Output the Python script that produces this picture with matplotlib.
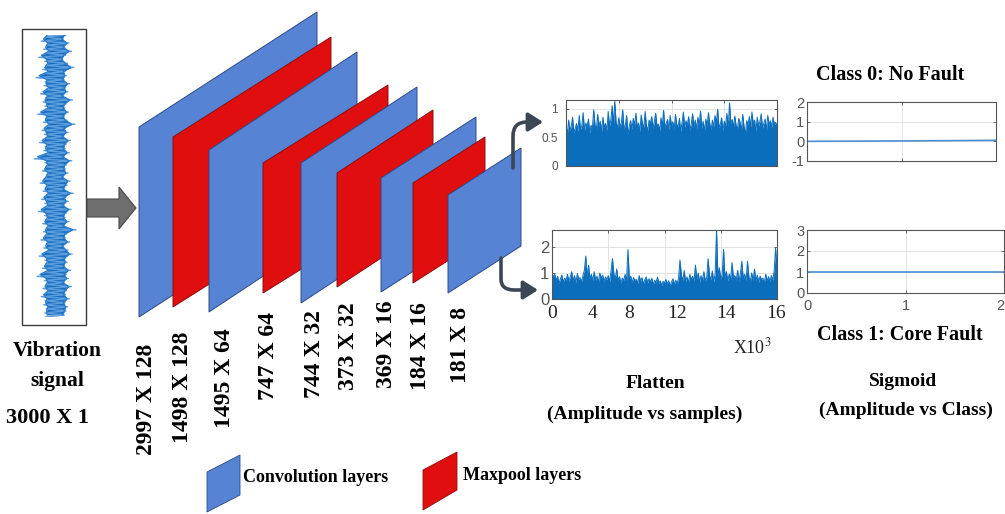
import numpy as np
import matplotlib
matplotlib.use('Agg')
import matplotlib.pyplot as plt
from matplotlib.patches import Polygon, FancyArrowPatch, Rectangle
from matplotlib.path import Path

plt.rcParams['axes.unicode_minus'] = False
plt.rcParams['mathtext.fontset'] = 'stix'

SERIF = ['Liberation Serif', 'DejaVu Serif']
SANS = ['Liberation Sans', 'DejaVu Sans']

# ---------------- data ----------------
layer_types = ['conv', 'pool', 'conv', 'pool', 'conv', 'pool', 'conv', 'pool', 'conv']
layer_dims = ['2997 X 128', '1498 X 128', '1495 X 64', '747 X 64', '744 X 32',
              '373 X 32', '369 X 16', '184 X 16', '181 X 8']
input_label = '3000 X 1'

# vibration signal envelope (right / left excursions, normalised)
vib_right = [0.30, 0.22, 0.38, 0.26, 0.45, 0.28, 0.20, 0.34, 0.52, 0.27,
             0.31, 0.24, 0.40, 0.29, 0.35, 0.22, 0.48, 0.30, 0.26, 0.37,
             0.25, 0.33, 0.55, 0.28, 0.36, 0.23, 0.42, 0.30, 0.27, 0.39,
             0.24, 0.46, 0.31, 0.28, 0.35, 0.22, 0.41, 0.33, 0.26, 0.50,
             0.29, 0.36, 0.24, 0.44, 0.30, 0.27, 0.38, 0.25, 0.58, 0.32,
             0.28, 0.40, 0.23, 0.35, 0.47, 0.29, 0.33, 0.26, 0.43, 0.30,
             0.37, 0.24, 0.45, 0.31, 0.28, 0.39, 0.27, 0.34, 0.30, 0.25]
vib_left = [-0.28, -0.40, -0.25, -0.33, -0.22, -0.47, -0.30, -0.26, -0.36, -0.24,
            -0.55, -0.29, -0.32, -0.23, -0.42, -0.27, -0.35, -0.30, -0.25, -0.50,
            -0.28, -0.34, -0.22, -0.38, -0.31, -0.26, -0.45, -0.29, -0.33, -0.24,
            -0.60, -0.30, -0.27, -0.37, -0.25, -0.32, -0.43, -0.28, -0.35, -0.23,
            -0.39, -0.30, -0.26, -0.48, -0.31, -0.27, -0.36, -0.24, -0.34, -0.29,
            -0.41, -0.26, -0.33, -0.22, -0.46, -0.30, -0.28, -0.37, -0.25, -0.52,
            -0.31, -0.27, -0.35, -0.24, -0.40, -0.29, -0.33, -0.26, -0.30, -0.28]

# flatten outputs (amplitude, one value per 100 samples, x in thousands)
flat_top = [0.72, 0.55, 0.80, 0.62, 0.70, 0.85, 0.58, 0.66, 0.74, 0.60,
            0.88, 0.64, 0.70, 0.93, 0.61, 0.75, 0.68, 0.82, 0.57, 0.71,
            0.66, 0.98, 0.72, 0.63, 0.90, 0.70, 0.78, 0.60, 0.85, 0.67,
            0.74, 0.62, 0.95, 0.70, 0.80, 1.05, 0.72, 1.13, 0.76, 0.66,
            0.84, 0.68, 0.76, 0.98, 0.63, 0.72, 0.88, 0.55, 0.70, 0.79,
            0.64, 0.83, 0.71, 0.92, 0.66, 0.75, 0.60, 0.89, 0.73, 0.68,
            0.95, 0.70, 0.62, 0.80, 0.74, 0.86, 0.65, 0.78, 0.92, 0.69,
            0.73, 0.61, 0.84, 0.70, 0.97, 0.66, 0.75, 0.81, 0.63, 0.88,
            0.70, 0.77, 0.64, 0.90, 0.72, 0.68, 0.83, 0.60, 0.76, 0.94,
            0.67, 0.79, 0.71, 0.86, 0.62, 0.74, 0.91, 0.69, 0.80, 0.65,
            0.85, 0.72, 0.96, 0.66, 0.78, 0.61, 0.82, 0.70, 0.93, 0.74,
            0.63, 0.80, 0.69, 0.88, 0.75, 0.99, 0.67, 0.73, 0.84, 0.62,
            0.78, 0.70, 0.92, 0.65, 1.10, 0.74, 0.81, 0.68, 0.87, 0.71,
            0.64, 0.83, 0.76, 0.62, 0.90, 0.69, 0.55, 0.79, 0.72, 0.86,
            0.68, 0.94, 0.73, 0.80, 0.61, 0.85, 0.70, 0.77, 0.91, 0.66,
            0.74, 0.82, 0.63, 0.88, 0.71, 0.79, 0.67, 0.85, 0.72, 0.76, 0.70]
flat_bot = [1.00, 0.85, 0.95, 0.70, 0.88, 0.60, 0.78, 0.92, 0.65, 0.80,
            0.72, 0.95, 0.68, 0.85, 1.05, 0.70, 0.90, 0.62, 0.98, 0.75,
            0.82, 0.66, 0.90, 1.10, 1.65, 0.85, 1.30, 0.78, 0.95, 0.70,
            1.05, 0.72, 0.88, 0.64, 1.00, 0.80, 0.92, 0.68, 0.85, 0.74,
            0.90, 0.66, 1.10, 1.55, 0.95, 0.78, 1.15, 0.70, 0.86, 0.62,
            0.80, 0.72, 0.95, 0.68, 1.90, 0.75, 0.88, 0.64, 0.82, 0.70,
            0.76, 0.60, 0.90, 0.68, 0.82, 0.58, 0.74, 0.85, 0.62, 0.78,
            0.66, 0.80, 0.55, 0.72, 0.64, 0.84, 0.60, 0.70, 0.52, 0.68,
            0.62, 0.75, 0.58, 0.70, 0.50, 0.66, 0.78, 0.56, 0.72, 0.60,
            0.80, 1.50, 0.92, 0.70, 1.10, 0.66, 0.85, 0.62, 0.95, 0.74,
            0.88, 0.68, 1.30, 0.76, 1.00, 0.64, 0.90, 0.72, 1.05, 0.70,
            0.82, 1.55, 0.90, 0.74, 1.08, 0.66, 0.95, 2.65, 0.85, 1.20,
            0.78, 0.92, 1.90, 0.80, 1.05, 0.70, 0.96, 0.74, 1.40, 0.82,
            0.90, 0.72, 1.10, 0.68, 1.00, 1.45, 0.76, 0.95, 0.70, 1.45,
            0.85, 0.66, 1.00, 0.72, 1.15, 0.70, 0.92, 0.64, 0.88, 0.74,
            0.80, 0.62, 0.95, 0.70, 0.86, 0.66, 0.90, 0.72, 1.10, 1.95, 1.20]
flat_xticklabels = ['0', '4', '8', '12', '14', '16']

# sigmoid outputs
classes = [0, 1, 2]
sig_class0 = [0.0, 0.02, 0.05]
sig_class1 = [1.0, 1.0, 1.0]

# ---------------- layout (pixels) ----------------
W, H = 1005, 514
# layer parallelograms: left x, left-top y, height, right x, right-top y
layer_geom = [(139, 127, 190, 317, 12), (173, 137, 170, 331, 37),
              (209, 150, 162, 357, 52), (263, 163, 130, 388, 85),
              (301, 163, 140, 417, 87), (337, 173, 114, 433, 110),
              (381, 178, 114, 476, 117), (413, 183, 100, 485, 137),
              (448, 195, 98, 521, 148)]
label_pos = [(147, 455), (183, 443), (224, 428), (268, 400), (315, 398),
             (348, 390), (387, 388), (420, 390), (460, 383)]
flat_tick_pos = [0.0, 2.9, 5.5, 8.9, 12.4, 15.9]

COL = {'conv': '#5683d4', 'pool': '#e00e0e'}
EDGE = {'conv': '#2d4a86', 'pool': '#8a1010'}
LINE = '#0a6ebd'

fig = plt.figure(figsize=(W / 100, H / 100), dpi=100)
fig.patch.set_facecolor('white')
ax = fig.add_axes([0, 0, 1, 1])
ax.set_xlim(0, W)
ax.set_ylim(H, 0)
ax.axis('off')


def rect(l, t, r, b):
    return [l / W, 1 - b / H, (r - l) / W, (b - t) / H]


# ---- input signal ----
ax.add_patch(Rectangle((22, 29), 64, 296, fill=False, ec='#3a3a3a', lw=1.0, zorder=2))
axv = fig.add_axes(rect(23, 35, 85, 317))
axv.axis('off')
n = len(vib_right)
yy = np.arange(n)
zz_x, zz_y = [], []
for i in range(n):
    zz_x += [vib_right[i] * 1.2, vib_left[i] * 1.2]
    zz_y += [i, i + 0.5]
axv.plot(zz_x, zz_y, color='#5c9ede', lw=1.0)
axv.fill_betweenx(yy, vib_left, vib_right, color='#1b6fc2', lw=0)
axv.plot(vib_right, yy, color='#2a7cca', lw=1.0)
axv.plot(vib_left, yy, color='#2a7cca', lw=1.0)
axv.set_xlim(-1.1, 1.0)
axv.set_ylim(n - 0.5, 0)

ax.text(57, 351, 'Vibration', ha='center', va='center', fontsize=15.5,
        fontweight='bold', family=SERIF)
ax.text(57, 381, 'signal', ha='center', va='center', fontsize=15.5,
        fontweight='bold', family=SERIF)
ax.text(47, 418, input_label, ha='center', va='center', fontsize=16,
        fontweight='bold', family=SERIF)

# grey block arrow
ax.add_patch(Polygon([(87, 199), (119, 199), (119, 187), (136, 208), (119, 229),
                      (119, 217), (87, 217)], closed=True, fc='#6e6e6e',
                     ec='#4a4a4a', lw=0.8, zorder=3))

# ---- layers ----
for (xl, yt, h, xr, yrt), t in zip(layer_geom, layer_types):
    poly = [(xl, yt), (xr, yrt), (xr, yrt + h), (xl, yt + h)]
    ax.add_patch(Polygon(poly, closed=True, fc=COL[t], ec=EDGE[t], lw=0.7, zorder=4))

for (x, yb), lab in zip(label_pos, layer_dims):
    ax.text(x, yb, lab, rotation=90, ha='center', va='bottom', fontsize=17,
            fontweight='bold', family=SERIF)

# curved arrows from the last layer
arrow_kw = dict(arrowstyle='-|>,head_length=0.55,head_width=0.35', mutation_scale=16,
                lw=2.6, color='#3c4655', zorder=6)
p1 = Path([(513, 168), (513, 136), (513, 122), (527, 122), (543, 122)],
          [Path.MOVETO, Path.LINETO, Path.CURVE3, Path.CURVE3, Path.LINETO])
ax.add_patch(FancyArrowPatch(path=p1, **arrow_kw))
p2 = Path([(501, 258), (501, 279), (501, 290), (514, 290), (538, 290)],
          [Path.MOVETO, Path.LINETO, Path.CURVE3, Path.CURVE3, Path.LINETO])
ax.add_patch(FancyArrowPatch(path=p2, **arrow_kw))


def style(a, ylabsize):
    for s in a.spines.values():
        s.set_color('#555555')
        s.set_linewidth(0.8)
    a.tick_params(direction='in', length=2.5, width=0.6, color='#555555',
                  labelcolor='#555555', top=True, right=True, labelsize=ylabsize, pad=2)
    a.grid(True, color='#dedede', lw=0.6)
    a.set_axisbelow(True)
    for lab in a.get_yticklabels():
        lab.set_family(SANS)


# ---- flatten plots ----
xs = np.arange(len(flat_top)) * 0.1
a1 = fig.add_axes(rect(566, 100, 777, 166))
a1.fill_between(xs, 0, flat_top, color=LINE, lw=0)
a1.plot(xs, flat_top, color=LINE, lw=0.7)
a1.set_xlim(0, 16)
a1.set_ylim(0, 1.15)
a1.set_xticks([0, 4, 8, 12, 16])
a1.set_xticklabels([])
a1.set_yticks([0, 0.5, 1])
a1.set_yticklabels(['0', '0.5', '1'])
style(a1, 8.5)
a1.tick_params(axis='y', pad=6)

xb = np.arange(len(flat_bot)) * 0.1
a2 = fig.add_axes(rect(552, 230, 777, 299))
a2.fill_between(xb, 0, flat_bot, color=LINE, lw=0)
a2.plot(xb, flat_bot, color=LINE, lw=0.7)
a2.set_xlim(0, 16)
a2.set_ylim(0, 2.65)
a2.set_yticks([0, 1, 2])
a2.set_yticklabels(['0', '1', '2'])
style(a2, 12)
# labels as major ticks, gridlines on minor ticks
a2.set_xticks(flat_tick_pos)
a2.set_xticklabels(flat_xticklabels)
a2.set_xticks([4, 8, 12], minor=True)
a2.grid(False, axis='x', which='major')
a2.grid(True, axis='x', which='minor', color='#dedede', lw=0.6)
a2.tick_params(axis='x', which='major', length=0, pad=4, labelsize=14,
               labelcolor='#222222', top=False)
a2.tick_params(axis='x', which='minor', direction='in', length=2.5, width=0.6,
               color='#555555', top=True)
for lab in a2.get_xticklabels():
    lab.set_family(SERIF)

ax.text(733, 347, r'X10$^3$', ha='left', va='center', fontsize=13, family=SERIF,
        color='#222222')
ax.text(655, 384, 'Flatten', ha='center', va='center', fontsize=14,
        fontweight='bold', family=SERIF)
ax.text(645, 414, '(Amplitude vs samples)', ha='center', va='center', fontsize=14,
        fontweight='bold', family=SERIF)

# ---- sigmoid plots ----
s1 = fig.add_axes(rect(807, 102, 996, 161))
s1.plot(classes, sig_class0, color='#4a8fd0', lw=1.2)
s1.set_xlim(0, 2)
s1.set_ylim(-1, 2)
s1.set_xticks([0, 1, 2])
s1.set_xticklabels([])
s1.set_yticks([-1, 0, 1, 2])
s1.set_yticklabels(['-1', '0', '1', '2'])
style(s1, 10.5)

s2 = fig.add_axes(rect(807, 230, 1004, 293))
s2.plot(classes, sig_class1, color='#4a8fd0', lw=1.2)
s2.set_xlim(0, 2)
s2.set_ylim(0, 3)
s2.set_xticks([0, 1, 2])
s2.set_xticklabels(['0', '1', '2'])
s2.set_yticks([0, 1, 2, 3])
s2.set_yticklabels(['0', '1', '2', '3'])
style(s2, 10.5)
for lab in s2.get_xticklabels():
    lab.set_family(SANS)
s2.get_xticklabels()[-1].set_ha('right')
s2.tick_params(axis='x', pad=4)

ax.text(890, 75, 'Class 0: No Fault', ha='center', va='center', fontsize=14.5,
        fontweight='bold', family=SERIF)
ax.text(900, 335, 'Class 1: Core Fault', ha='center', va='center', fontsize=14.5,
        fontweight='bold', family=SERIF)
ax.text(903, 382, 'Sigmoid', ha='center', va='center', fontsize=14,
        fontweight='bold', family=SERIF)
ax.text(906, 410, '(Amplitude vs Class)', ha='center', va='center', fontsize=14,
        fontweight='bold', family=SERIF)

# ---- legend ----
ax.add_patch(Polygon([(207, 472), (240, 455), (240, 495), (207, 512)], closed=True,
                     fc=COL['conv'], ec=EDGE['conv'], lw=0.6))
ax.text(243, 478, 'Convolution layers', ha='left', va='center', fontsize=13,
        fontweight='bold', family=SERIF)
ax.add_patch(Polygon([(423, 470), (457, 452), (457, 490), (423, 510)], closed=True,
                     fc=COL['pool'], ec=EDGE['pool'], lw=0.6))
ax.text(463, 475, 'Maxpool layers', ha='left', va='center', fontsize=13,
        fontweight='bold', family=SERIF)

fig.savefig('out.png', dpi=100, facecolor='white')
